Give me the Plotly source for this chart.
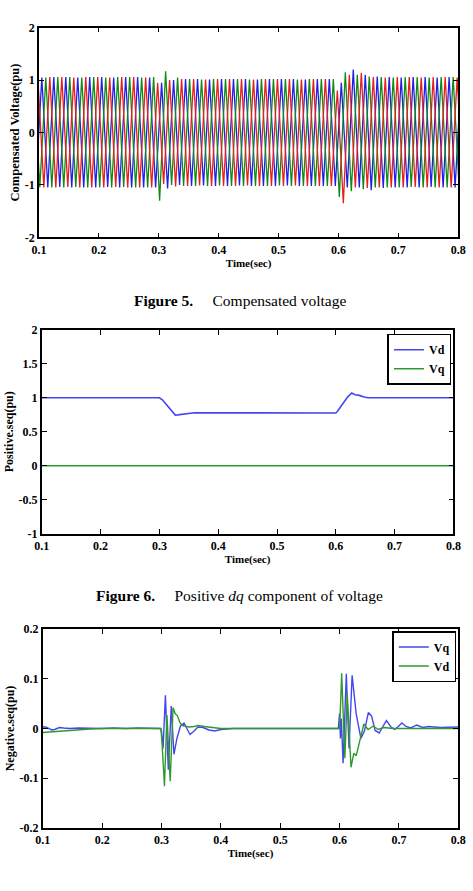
import numpy as np
import plotly.graph_objects as go

# ---------------- shared axis data ----------------
X_TICKS = [0.1, 0.2, 0.3, 0.4, 0.5, 0.6, 0.7, 0.8]
X_TICK_LABELS = ["0.1", "0.2", "0.3", "0.4", "0.5", "0.6", "0.7", "0.8"]

# ---------------- Figure 5: compensated three-phase voltage ----------------
# successive (positive peak, negative peak) values per cycle
HALF_CYCLE = 0.01
PHASE_A_START = 0.0848   # blue phase, time of first positive peak
PHASE_B_START = 0.0915   # green phase
PHASE_C_START = 0.0982   # red phase
PHASE_A_PEAKS = [
    (1.06, -1.05), (1.05, -1.05), (1.06, -1.04), (1.06, -1.05), (1.05, -1.05),
    (1.06, -1.05), (1.06, -1.04), (1.05, -1.05), (1.06, -1.05), (1.06, -1.05),
    (1.05, -1.05), (0.95, -1.07), (1.00, -1.00),
    (1.02, -1.02), (1.02, -1.01), (1.01, -1.02), (1.02, -1.02), (1.02, -1.01),
    (1.02, -1.02), (1.01, -1.02), (1.02, -1.02), (1.02, -1.01), (1.02, -1.02),
    (1.01, -1.02), (1.02, -1.02), (1.02, -1.02),
    (0.95, -1.05), (1.20, -1.05), (1.10, -1.10), (1.07, -1.06),
    (1.06, -1.05), (1.05, -1.05), (1.06, -1.05), (1.06, -1.04), (1.05, -1.05),
    (1.06, -1.05), (1.06, -1.05), (1.05, -1.05),
]
PHASE_B_PEAKS = [
    (1.06, -1.05), (1.05, -1.05), (1.06, -1.05), (1.06, -1.04), (1.05, -1.05),
    (1.06, -1.05), (1.05, -1.05), (1.06, -1.04), (1.06, -1.05), (1.05, -1.05),
    (1.06, -1.30), (1.17, -1.00), (1.05, -1.02),
    (1.02, -1.02), (1.01, -1.02), (1.02, -1.01), (1.02, -1.02), (1.02, -1.02),
    (1.01, -1.02), (1.02, -1.02), (1.02, -1.01), (1.02, -1.02), (1.01, -1.02),
    (1.02, -1.02), (1.02, -1.02),
    (1.02, -1.23), (1.15, -1.12), (1.10, -1.08), (1.07, -1.05),
    (1.06, -1.05), (1.05, -1.05), (1.06, -1.04), (1.06, -1.05), (1.05, -1.05),
    (1.06, -1.05), (1.06, -1.05), (1.05, -1.05),
]
PHASE_C_PEAKS = [
    (1.05, -1.05), (1.06, -1.05), (1.06, -1.04), (1.05, -1.05), (1.06, -1.05),
    (1.06, -1.05), (1.05, -1.04), (1.06, -1.05), (1.06, -1.05), (1.05, -1.05),
    (0.95, -0.98), (1.00, -1.03),
    (1.02, -1.02), (1.02, -1.01), (1.01, -1.02), (1.02, -1.02), (1.02, -1.02),
    (1.02, -1.01), (1.01, -1.02), (1.02, -1.02), (1.02, -1.02), (1.02, -1.01),
    (1.01, -1.02), (1.02, -1.02), (1.02, -1.02),
    (0.80, -1.35), (1.10, -1.05), (1.14, -1.06),
    (1.06, -1.05), (1.05, -1.05), (1.06, -1.05), (1.06, -1.04), (1.05, -1.05),
    (1.06, -1.05), (1.06, -1.05), (1.05, -1.05),
]
PHASE_COLORS = ["#1f1fe8", "#118a11", "#e81d1d"]

# ---------------- Figure 6: positive sequence dq ----------------
POS_VD_T = [0.1, 0.15, 0.2, 0.25, 0.3, 0.305, 0.31, 0.316, 0.32, 0.324, 0.327,
            0.331, 0.335, 0.345, 0.36, 0.4, 0.45, 0.5, 0.55, 0.6, 0.602, 0.606,
            0.61, 0.615, 0.62, 0.627, 0.633, 0.64, 0.648, 0.655, 0.67, 0.7, 0.75, 0.8]
POS_VD_V = [1.0, 1.0, 1.0, 1.0, 1.0, 0.97, 0.92, 0.865, 0.82, 0.77, 0.745,
            0.748, 0.752, 0.77, 0.78, 0.778, 0.78, 0.778, 0.78, 0.775, 0.79, 0.84,
            0.89, 0.95, 1.01, 1.07, 1.045, 1.035, 1.01, 1.0, 1.0, 1.0, 1.0, 1.0]
POS_VQ_T = [0.1, 0.3, 0.6, 0.8]
POS_VQ_V = [0.0, 0.0, 0.0, 0.0]

# ---------------- Figure 7: negative sequence dq ----------------
NEG_VQ_T = [0.1, 0.105, 0.11, 0.115, 0.12, 0.128, 0.135, 0.145, 0.16, 0.18, 0.2,
            0.22, 0.24, 0.26, 0.28, 0.298, 0.3, 0.3027, 0.3066, 0.3115, 0.3165,
            0.321, 0.326, 0.332, 0.338, 0.343, 0.348, 0.355, 0.3615, 0.37, 0.38,
            0.39, 0.4, 0.42, 0.45, 0.5, 0.55, 0.598, 0.6, 0.6015, 0.603, 0.606,
            0.6114, 0.616, 0.6212, 0.628, 0.636, 0.642, 0.6485, 0.654, 0.66,
            0.667, 0.672, 0.679, 0.686, 0.693, 0.699, 0.705, 0.712, 0.72, 0.73,
            0.74, 0.75, 0.77, 0.8]
NEG_VQ_V = [0.003, 0.003, 0.0, -0.003, -0.002, 0.002, 0.001, 0.0, 0.001, 0.0, 0.0,
            0.001, 0.0, 0.001, 0.0, 0.0, -0.005, -0.04, 0.067, -0.083, 0.045,
            -0.052, -0.02, 0.005, 0.011, 0.0, -0.012, -0.005, 0.003, 0.002, -0.003,
            -0.005, -0.002, 0.0, 0.0, 0.0, 0.0, 0.0, 0.03, -0.02, 0.02, -0.07,
            0.11, -0.04, 0.107, 0.03, -0.02, -0.005, 0.032, 0.025, -0.004,
            -0.009, 0.002, 0.016, 0.004, -0.002, 0.004, 0.011, 0.004, 0.001, 0.007,
            0.002, 0.004, 0.002, 0.003]
NEG_VD_T = [0.1, 0.12, 0.14, 0.16, 0.18, 0.2, 0.25, 0.299, 0.301, 0.305, 0.3092,
            0.3147, 0.3195, 0.323, 0.3267, 0.331, 0.335, 0.34, 0.346, 0.355, 0.362,
            0.372, 0.385, 0.4, 0.45, 0.5, 0.55, 0.6, 0.6015, 0.6036, 0.609, 0.613,
            0.6193, 0.624, 0.628, 0.633, 0.637, 0.641, 0.648, 0.657, 0.665, 0.675,
            0.69, 0.7, 0.75, 0.8]
NEG_VD_V = [-0.008, -0.006, -0.004, -0.002, -0.001, 0.0, 0.0, 0.0, -0.03, -0.116, 0.027,
            -0.106, 0.042, 0.03, 0.026, 0.012, 0.006, 0.004, 0.003, 0.004, 0.006,
            0.004, 0.002, 0.0, 0.0, 0.0, 0.0, 0.0, 0.04, 0.111, -0.06, 0.07,
            -0.078, -0.05, -0.055, -0.03, -0.01, 0.009, -0.002, 0.005, -0.002, 0.002,
            0.0, 0.0, 0.0, 0.0]

BLUE = "#4646ee"
GREEN = "#2e9a2e"
SERIF = "Liberation Serif, Times New Roman, serif"

fig = go.Figure()

# Figure 5 traces
for start, peaks, color in zip([PHASE_A_START, PHASE_B_START, PHASE_C_START],
                               [PHASE_A_PEAKS, PHASE_B_PEAKS, PHASE_C_PEAKS],
                               PHASE_COLORS):
    vals = np.array(peaks).ravel()
    t = start + HALF_CYCLE * np.arange(len(vals))
    fig.add_trace(go.Scatter(x=t, y=vals, mode="lines", line=dict(color=color, width=1.3),
                             showlegend=False, xaxis="x", yaxis="y"))

# Figure 6 traces
fig.add_trace(go.Scatter(x=POS_VD_T, y=POS_VD_V, mode="lines", name="Vd",
                         line=dict(color=BLUE, width=1.6), xaxis="x2", yaxis="y2",
                         legend="legend"))
fig.add_trace(go.Scatter(x=POS_VQ_T, y=POS_VQ_V, mode="lines", name="Vq",
                         line=dict(color=GREEN, width=1.6), xaxis="x2", yaxis="y2",
                         legend="legend"))

# Figure 7 traces
fig.add_trace(go.Scatter(x=NEG_VQ_T, y=NEG_VQ_V, mode="lines", name="Vq",
                         line=dict(color=BLUE, width=1.4), xaxis="x3", yaxis="y3",
                         legend="legend2"))
fig.add_trace(go.Scatter(x=NEG_VD_T, y=NEG_VD_V, mode="lines", name="Vd",
                         line=dict(color=GREEN, width=1.4), xaxis="x3", yaxis="y3",
                         legend="legend2"))

W, H = 473, 891
tickfont = dict(family=SERIF, size=12, color="black", weight="bold")


def xaxis(domain, anchor):
    return dict(domain=domain, anchor=anchor, range=[0.1, 0.8], tickvals=X_TICKS,
                ticktext=X_TICK_LABELS, ticks="inside", ticklen=5, tickwidth=1.2,
                tickcolor="black", showline=True, linecolor="black", linewidth=1.6,
                mirror="ticks", showgrid=False, zeroline=False, tickfont=tickfont,
                title=dict(text="Time(sec)", standoff=1,
                           font=dict(family=SERIF, size=11, color="black", weight="bold")))


def yaxis(domain, anchor, rng, vals, labels, title, tsize):
    return dict(domain=domain, anchor=anchor, range=rng, tickvals=vals, ticktext=labels,
                ticks="inside", ticklen=5, tickwidth=1.2, tickcolor="black",
                showline=True, linecolor="black", linewidth=1.6, mirror="ticks",
                showgrid=False, zeroline=False, tickfont=tickfont,
                title=dict(text=title, standoff=2,
                           font=dict(family=SERIF, size=tsize, color="black", weight="bold")))


fig.update_layout(
    width=W, height=H, margin=dict(l=0, r=0, t=0, b=0),
    paper_bgcolor="white", plot_bgcolor="white",
    xaxis=xaxis([32 / W, 466 / W], "y"),
    yaxis=yaxis([1 - 234 / H, 1 - 21 / H], "x", [-2, 2], [-2, -1, 0, 1, 2],
                ["-2", "-1", "0", "1", "2"], "Compensated Voltage(pu)", 12.5),
    xaxis2=xaxis([35 / W, 461 / W], "y2"),
    yaxis2=yaxis([1 - 535 / H, 1 - 328 / H], "x2", [-1, 2],
                 [-1, -0.5, 0, 0.5, 1, 1.5, 2],
                 ["-1", "-0.5", "0", "0.5", "1", "1.5", "2"], "Positive.seq(pu)", 12),
    xaxis3=xaxis([36 / W, 466 / W], "y3"),
    yaxis3=yaxis([1 - 834 / H, 1 - 632 / H], "x3", [-0.2, 0.2],
                 [-0.2, -0.1, 0, 0.1, 0.2],
                 ["-0.2", "-0.1", "0", "0.1", "0.2"], "Negative.seq(pu)", 12),
    legend=dict(x=459 / W, y=1 - 332 / H, xanchor="right", yanchor="top",
                bgcolor="white", bordercolor="black", borderwidth=1.5,
                itemwidth=30, tracegroupgap=0,
                font=dict(family=SERIF, size=12, color="black", weight="bold")),
    legend2=dict(x=464 / W, y=1 - 634 / H, xanchor="right", yanchor="top",
                 bgcolor="white", bordercolor="black", borderwidth=1.5,
                 itemwidth=30, tracegroupgap=0,
                 font=dict(family=SERIF, size=12, color="black", weight="bold")),
    annotations=[
        dict(text="<b>Figure 5.</b>\u2003 Compensated voltage", xref="paper", yref="paper",
             x=240 / W, y=1 - 298 / H, xanchor="center", yanchor="middle", showarrow=False,
             font=dict(family=SERIF, size=15.5, color="black")),
        dict(text="<b>Figure 6.</b>\u2003 Positive <i>dq</i> component of voltage",
             xref="paper", yref="paper",
             x=240 / W, y=1 - 598 / H, xanchor="center", yanchor="middle", showarrow=False,
             font=dict(family=SERIF, size=15.5, color="black")),
    ],
)

fig.write_html("out.html")
